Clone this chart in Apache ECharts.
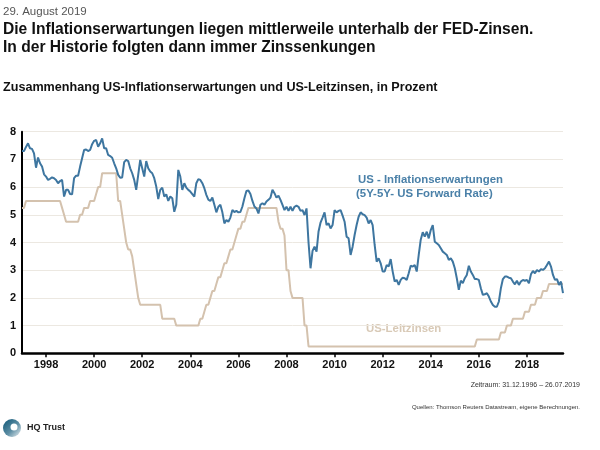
<!DOCTYPE html>
<html>
<head>
<meta charset="utf-8">
<script src="https://cdn.jsdelivr.net/npm/echarts@6/dist/echarts.min.js"></script>
<style>
html,body{margin:0;padding:0;background:#fff;}
#chart{width:600px;height:450px;}
</style>
</head>
<body>
<div id="chart"></div>
<script>
// ---- Data (monthly, Jan 1997 .. Jul 2019) ----
const startYear = 1997;
const endMonthCount = 271;
const tickYears = ['1998','2000','2002','2004','2006','2008','2010','2012','2014','2016','2018'];
const yTicks = [0,1,2,3,4,5,6,7,8];

// US inflation expectations (5Y-5Y forward)
const inflation = [
  // 1997
  7.30,7.30,7.45,7.58,7.40,7.38,7.22,6.70,7.07,6.86,6.74,6.46,
  // 1998
  6.38,6.26,6.30,6.35,6.32,6.26,6.14,6.22,6.26,5.66,5.90,5.90,
  // 1999
  5.75,5.74,6.32,6.41,6.41,6.74,7.04,7.34,7.36,7.30,7.34,7.55,
  // 2000
  7.67,7.70,7.46,7.58,7.76,7.40,7.40,7.16,7.12,7.06,6.86,6.68,
  // 2001
  6.44,6.34,6.35,6.90,6.98,6.94,6.68,6.50,6.26,5.90,6.44,6.98,
  // 2002
  6.68,6.38,6.94,6.68,6.56,6.50,6.32,6.02,5.57,5.90,5.98,5.66,
  // 2003
  5.74,5.50,5.66,5.60,5.11,5.36,6.62,6.38,5.90,6.14,5.98,5.90,
  // 2004
  5.84,5.75,5.66,6.14,6.29,6.26,6.14,5.96,5.72,5.55,5.50,5.62,
  // 2005
  5.36,5.09,5.29,5.36,5.09,4.69,4.81,4.75,4.90,5.17,5.10,5.14,
  // 2006
  5.09,5.10,5.30,5.60,5.86,5.88,5.75,5.50,5.30,5.23,5.05,5.36,
  // 2007
  5.42,5.36,5.48,5.54,5.62,5.90,5.78,5.62,5.69,5.54,5.36,5.17,
  // 2008
  5.29,5.14,5.29,5.14,5.29,5.33,5.29,5.14,5.17,4.99,5.23,4.00,
  // 2009
  3.07,3.70,3.85,3.67,4.40,4.72,4.90,5.09,4.63,4.69,4.51,4.63,
  // 2010
  5.17,5.09,5.14,5.17,4.97,4.75,4.21,4.15,3.55,3.85,4.27,4.63,
  // 2011
  4.93,5.09,5.02,4.99,4.90,4.69,4.81,4.63,3.91,3.31,3.43,3.25,
  // 2012
  2.95,2.95,3.19,3.13,3.40,2.95,2.59,2.65,2.47,2.65,2.73,2.71,
  // 2013
  2.65,2.89,3.16,3.13,3.19,2.95,3.55,4.10,4.37,4.21,4.39,4.15,
  // 2014
  4.45,4.63,4.03,3.97,3.91,3.79,3.67,3.61,3.55,3.37,3.43,3.31,
  // 2015
  3.07,2.71,2.29,2.62,2.53,2.71,2.83,3.16,2.95,2.83,2.68,2.68,
  // 2016
  2.65,2.35,2.11,2.13,2.17,2.05,1.87,1.74,1.68,1.68,1.87,2.35,
  // 2017
  2.68,2.77,2.77,2.73,2.71,2.59,2.49,2.62,2.47,2.59,2.65,2.62,
  // 2018
  2.65,2.53,2.85,2.97,2.89,3.01,2.95,3.04,3.01,3.07,3.19,3.31,
  // 2019
  3.13,2.83,2.65,2.68,2.47,2.59,2.17
];

// US policy rate (Fed funds target, upper bound), end of month
const fedRate = [
  // 1997
  5.25,5.25,5.5,5.5,5.5,5.5,5.5,5.5,5.5,5.5,5.5,5.5,
  // 1998
  5.5,5.5,5.5,5.5,5.5,5.5,5.5,5.5,5.25,5.0,4.75,4.75,
  // 1999
  4.75,4.75,4.75,4.75,4.75,5.0,5.0,5.25,5.25,5.25,5.5,5.5,
  // 2000
  5.5,5.75,6.0,6.0,6.5,6.5,6.5,6.5,6.5,6.5,6.5,6.5,
  // 2001
  5.5,5.5,5.0,4.5,4.0,3.75,3.75,3.5,3.0,2.5,2.0,1.75,
  // 2002
  1.75,1.75,1.75,1.75,1.75,1.75,1.75,1.75,1.75,1.75,1.25,1.25,
  // 2003
  1.25,1.25,1.25,1.25,1.25,1.0,1.0,1.0,1.0,1.0,1.0,1.0,
  // 2004
  1.0,1.0,1.0,1.0,1.0,1.25,1.25,1.5,1.75,1.75,2.0,2.25,
  // 2005
  2.25,2.5,2.75,2.75,3.0,3.25,3.25,3.5,3.75,3.75,4.0,4.25,
  // 2006
  4.5,4.5,4.75,4.75,5.0,5.25,5.25,5.25,5.25,5.25,5.25,5.25,
  // 2007
  5.25,5.25,5.25,5.25,5.25,5.25,5.25,5.25,4.75,4.5,4.5,4.25,
  // 2008
  3.0,3.0,2.25,2.0,2.0,2.0,2.0,2.0,2.0,1.0,1.0,0.25,
  // 2009
  0.25,0.25,0.25,0.25,0.25,0.25,0.25,0.25,0.25,0.25,0.25,0.25,
  // 2010
  0.25,0.25,0.25,0.25,0.25,0.25,0.25,0.25,0.25,0.25,0.25,0.25,
  // 2011
  0.25,0.25,0.25,0.25,0.25,0.25,0.25,0.25,0.25,0.25,0.25,0.25,
  // 2012
  0.25,0.25,0.25,0.25,0.25,0.25,0.25,0.25,0.25,0.25,0.25,0.25,
  // 2013
  0.25,0.25,0.25,0.25,0.25,0.25,0.25,0.25,0.25,0.25,0.25,0.25,
  // 2014
  0.25,0.25,0.25,0.25,0.25,0.25,0.25,0.25,0.25,0.25,0.25,0.25,
  // 2015
  0.25,0.25,0.25,0.25,0.25,0.25,0.25,0.25,0.25,0.25,0.25,0.5,
  // 2016
  0.5,0.5,0.5,0.5,0.5,0.5,0.5,0.5,0.5,0.5,0.5,0.75,
  // 2017
  0.75,0.75,1.0,1.0,1.0,1.25,1.25,1.25,1.25,1.25,1.25,1.5,
  // 2018
  1.5,1.5,1.75,1.75,1.75,2.0,2.0,2.0,2.25,2.25,2.25,2.5,
  // 2019
  2.5,2.5,2.5,2.5,2.5,2.5,2.5
];

// month categories
const months = [];
for (let i = 0; i < endMonthCount; i++) {
  const y = startYear + Math.floor(i / 12);
  const m = (i % 12) + 1;
  months.push(y + '-' + (m < 10 ? '0' + m : m));
}

const BLUE = '#3e76a0';
const TAN = '#d4c2ae';
const AX_FONT = '"Liberation Sans Narrow", "Liberation Sans", Arial, sans-serif';
const FONT = '"Liberation Sans", Arial, sans-serif';

const isTick = (idx) => {
  const v = months[idx];
  return v.endsWith('-01') && tickYears.indexOf(v.slice(0,4)) >= 0;
};

const chart = echarts.init(document.getElementById('chart'), null, {renderer: 'canvas'});
chart.setOption({
  animation: false,
  backgroundColor: '#ffffff',
  grid: {left: 22, right: 37, top: 131.7, bottom: 96.7, containLabel: false},
  xAxis: {
    type: 'category',
    data: months,
    boundaryGap: false,
    axisLine: {lineStyle: {color: '#000', width: 2.5}},
    axisTick: {show: true, interval: isTick, length: 4, lineStyle: {color: '#000', width: 1.5}},
    axisLabel: {
      interval: isTick,
      formatter: v => v.slice(0,4),
      color: '#111', fontWeight: 'bold', fontSize: 11, fontFamily: AX_FONT, margin: 6
    },
    splitLine: {show: false}
  },
  yAxis: {
    type: 'value',
    min: yTicks[0], max: yTicks[yTicks.length-1], interval: 1,
    axisLine: {show: true, lineStyle: {color: '#000', width: 2}},
    axisTick: {show: false},
    axisLabel: {color: '#111', fontWeight: 'bold', fontSize: 11, fontFamily: AX_FONT, margin: 6},
    splitLine: {show: true, lineStyle: {color: '#ece8e1', width: 1}}
  },
  series: [
    {
      name: 'US-Leitzinsen', type: 'line', data: fedRate, showSymbol: false,
      lineStyle: {color: TAN, width: 2}, z: 2
    },
    {
      name: 'US - Inflationserwartungen', type: 'line', data: inflation, showSymbol: false,
      lineStyle: {color: BLUE, width: 2}, z: 3
    }
  ],
  graphic: [
    {type: 'text', left: 3, top: 6, style: {text: '29. August 2019', font: '11.5px ' + FONT, fill: '#555'}},
    {type: 'text', left: 3, top: 22, style: {text: 'Die Inflationserwartungen liegen mittlerweile unterhalb der FED-Zinsen.', font: 'bold 15.6px ' + FONT, fill: '#111'}},
    {type: 'text', left: 3, top: 40, style: {text: 'In der Historie folgten dann immer Zinssenkungen', font: 'bold 15.6px ' + FONT, fill: '#111'}},
    {type: 'text', left: 3, top: 81, style: {text: 'Zusammenhang US-Inflationserwartungen und US-Leitzinsen, in Prozent', font: 'bold 12.6px ' + FONT, fill: '#111'}},
    {type: 'text', left: 358, top: 174, style: {text: 'US - Inflationserwartungen', font: 'bold 11.4px ' + FONT, fill: '#4a80a8'}},
    {type: 'text', left: 356, top: 188, style: {text: '(5Y-5Y- US Forward Rate)', font: 'bold 11.4px ' + FONT, fill: '#4a80a8'}},
    {type: 'text', left: 366, top: 323, style: {text: 'US-Leitzinsen', font: 'bold 11.4px ' + FONT, fill: '#d8c9b6'}},
    {type: 'text', right: 20, top: 382, style: {text: 'Zeitraum: 31.12.1996 \u2013 26.07.2019', font: '7px ' + FONT, fill: '#333'}},
    {type: 'text', right: 20, top: 404, style: {text: 'Quellen: Thomson Reuters Datastream, eigene Berechnungen.', font: '6px ' + AX_FONT, fill: '#333'}},
    {type: 'circle', shape: {cx: 12, cy: 428, r: 9}, style: {fill: new echarts.graphic.LinearGradient(0, 0, 1, 1, [{offset: 0, color: '#0d5575'}, {offset: 0.55, color: '#5d8ea4'}, {offset: 1, color: '#eef2f4'}])}},
    {type: 'circle', shape: {cx: 14, cy: 427, r: 3.5}, style: {fill: '#ffffff'}},
    {type: 'text', left: 27, top: 423, style: {text: 'HQ Trust', font: 'bold 9px ' + FONT, fill: '#222'}}
  ]
});
</script>
</body>
</html>
